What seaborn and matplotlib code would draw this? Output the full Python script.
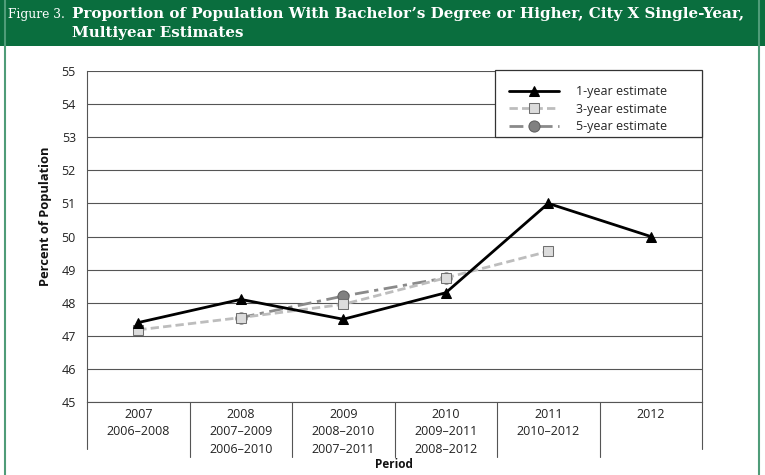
import numpy as np
import pandas as pd
import seaborn as sns
import matplotlib
matplotlib.use("Agg")
import matplotlib.pyplot as plt
import matplotlib.transforms as mtransforms
from matplotlib.patches import Rectangle

# ---- data ----
periods = ["2007", "2008", "2009", "2010", "2011", "2012"]
tick_labels = ["2007\n2006\u20132008",
               "2008\n2007\u20132009\n2006\u20132010",
               "2009\n2008\u20132010\n2007\u20132011",
               "2010\n2009\u20132011\n2008\u20132012",
               "2011\n2010\u20132012",
               "2012"]
one_year = [47.4, 48.1, 47.5, 48.3, 51.0, 50.0]
three_year = [47.18, 47.55, 47.95, 48.75, 49.55, np.nan]
five_year = [np.nan, 47.55, 48.2, 48.75, np.nan, np.nan]
yticks = [45, 46, 47, 48, 49, 50, 51, 52, 53, 54, 55]

title_prefix = "Figure 3."
title_text = "Proportion of Population With Bachelor\u2019s Degree or Higher, City X Single-Year,\nMultiyear Estimates"
ylabel = "Percent of Population"
xlabel = "Period"

sns.set_theme(style="white")
sans = ["Open Sans", "DejaVu Sans"]
plt.rcParams['font.family'] = sans

W, H = 765, 475
fig = plt.figure(figsize=(W / 100, H / 100), dpi=100)
fig.patch.set_facecolor("white")

# header and border
green = "#0a6e3e"
fig.patches.append(Rectangle((0, 1 - 46 / H), 1, 46 / H, transform=fig.transFigure,
                             facecolor=green, edgecolor="none", zorder=0))
fig.patches.append(Rectangle((4.5 / W, -0.05), (759 - 4.5) / W, 1.1, transform=fig.transFigure,
                             facecolor="none", edgecolor="#4f9c78", linewidth=1.5, zorder=1))
fig.text(8 / W, 1 - 14.5 / H, title_prefix, color="white", fontsize=8.8,
         family="DejaVu Serif", va="center", ha="left")
fig.text(72 / W, 1 - 23.5 / H, title_text, color="white", fontsize=10.9,
         family="DejaVu Serif", fontweight="bold", va="center", ha="left", linespacing=1.38)

left, right, top, bottom = 87, 702, 71, 402
ax = fig.add_axes([left / W, 1 - bottom / H, (right - left) / W, (bottom - top) / H])

df = pd.DataFrame({"x": np.arange(len(periods)), "one": one_year,
                   "three": three_year, "five": five_year})

sns.lineplot(data=df, x="x", y="five", ax=ax, color="#8a8a8a", linewidth=2.0,
             dashes=False, marker="o", markersize=8, markerfacecolor="#808080",
             markeredgecolor="#606060", label="5-year estimate", zorder=3)
ax.lines[-1].set_linestyle((0, (5, 2, 1.5, 2)))
sns.lineplot(data=df, x="x", y="three", ax=ax, color="#bdbdbd", linewidth=2.0,
             marker="s", markersize=7.5, markerfacecolor="#dcdcdc",
             markeredgecolor="#707070", label="3-year estimate", zorder=4)
ax.lines[-1].set_linestyle((0, (3, 1.5)))
sns.lineplot(data=df, x="x", y="one", ax=ax, color="black", linewidth=2.0,
             marker="^", markersize=6.5, markerfacecolor="black",
             markeredgecolor="black", label="1-year estimate", zorder=5)

ax.set_xlim(-0.5, 5.5)
ax.set_ylim(45, 55)
ax.set_yticks(yticks)
ax.set_yticklabels([str(v) for v in yticks])
ax.set_xticks(np.arange(len(periods)))
ax.set_xticklabels(tick_labels, linespacing=1.45, va="top")
ax.tick_params(axis="both", length=0, labelsize=9, colors="#222222")
ax.tick_params(axis="x", pad=4)
ax.tick_params(axis="y", pad=8)
ax.grid(axis="y", color="#555555", linewidth=0.8)
ax.set_axisbelow(True)
for s in ["left", "right"]:
    ax.spines[s].set_color("#555555")
    ax.spines[s].set_linewidth(0.8)
ax.spines["top"].set_visible(False)
ax.spines["bottom"].set_color("#555555")
ax.spines["bottom"].set_linewidth(0.8)
ax.set_xlabel("")
ax.set_ylabel("")

ph = bottom - top
pw = right - left
trans = mtransforms.blended_transform_factory(ax.transData, ax.transAxes)
for b in np.arange(0.5, 5.5, 1.0):
    ax.plot([b, b], [0, -(457 - 402) / ph], transform=trans,
            color="#555555", linewidth=0.8, clip_on=False)
for b in [-0.5, 5.5]:
    ax.plot([b, b], [0, -(449 - 402) / ph], transform=trans,
            color="#555555", linewidth=0.8, clip_on=False)

# legend box
lx0, lx1, ly0, ly1 = 495, 702, 70.5, 137
ax.add_patch(Rectangle(((lx0 - left) / pw, 1 - (ly1 - top) / ph),
                       (lx1 - lx0) / pw, (ly1 - ly0) / ph, transform=ax.transAxes,
                       facecolor="white", edgecolor="#333333", linewidth=0.9,
                       zorder=6, clip_on=False))
handles, labels = ax.get_legend_handles_labels()
order = [labels.index("1-year estimate"), labels.index("3-year estimate"), labels.index("5-year estimate")]
leg = ax.legend([handles[i] for i in order], [labels[i] for i in order],
                loc="upper left", bbox_to_anchor=((lx0 - left) / pw, 1), borderaxespad=0,
                frameon=False, fontsize=9, handlelength=4.0,
                labelspacing=0.34, borderpad=1.15, handletextpad=1.35, numpoints=1)
leg.set_zorder(7)

fig.text(46 / W, 1 - 216 / H, ylabel, rotation=90, fontsize=9.3, fontweight="bold",
         ha="center", va="center", color="#111111")
fig.text(394 / W, 1 - 464 / H, xlabel, fontsize=8.5, fontweight="bold",
         ha="center", va="center", color="#111111")

fig.savefig("out.png", dpi=100)
